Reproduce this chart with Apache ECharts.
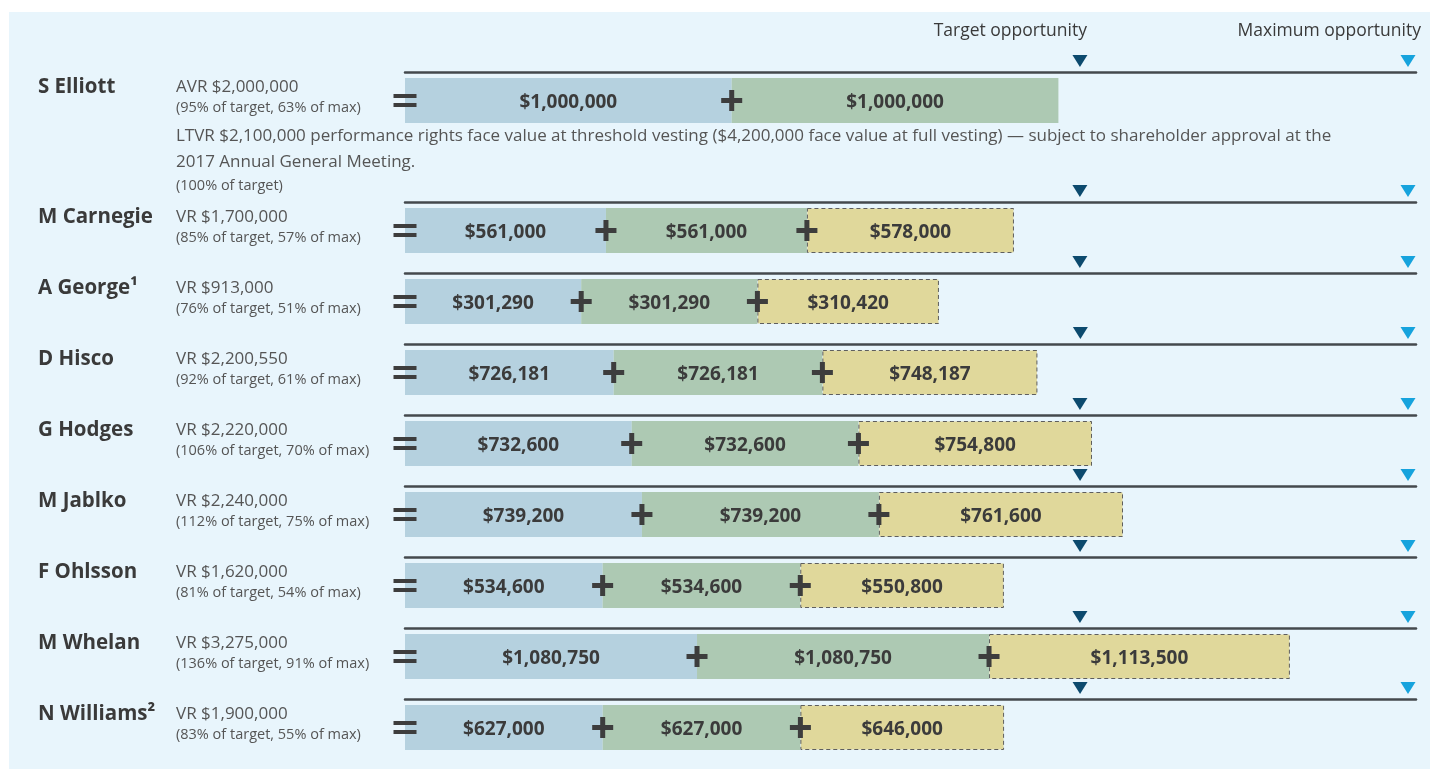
<!DOCTYPE html>
<html>
<head>
<meta charset="utf-8">
<script src="https://cdn.jsdelivr.net/npm/echarts@6/dist/echarts.min.js"></script>
<style>
  html, body { margin: 0; padding: 0; background: #fff; }
  #main { width: 1430px; height: 769px; }
</style>
</head>
<body>
<div id="main"></div>
<script>
// rows, top to bottom
var names = ['S Elliott', 'M Carnegie', 'A George¹', 'D Hisco', 'G Hodges', 'M Jablko', 'F Ohlsson', 'M Whelan', 'N Williams²'];
var awardText = ['AVR $2,000,000', 'VR $1,700,000', 'VR $913,000', 'VR $2,200,550', 'VR $2,220,000', 'VR $2,240,000', 'VR $1,620,000', 'VR $3,275,000', 'VR $1,900,000'];
var pctText = ['(95% of target, 63% of max)', '(85% of target, 57% of max)', '(76% of target, 51% of max)', '(92% of target, 61% of max)',
  '(106% of target, 70% of max)', '(112% of target, 75% of max)', '(81% of target, 54% of max)', '(136% of target, 91% of max)', '(83% of target, 55% of max)'];
var part1 = [1000000, 561000, 301290, 726181, 732600, 739200, 534600, 1080750, 627000];
var part2 = [1000000, 561000, 301290, 726181, 732600, 739200, 534600, 1080750, 627000];
var part3 = [null, 578000, 310420, 748187, 754800, 761600, 550800, 1113500, 646000];
// opportunity markers
var targetOpp = [2066000, 1884000, 1154000, 2350000, 2181000, 2106000, 1826000, 2498000, 2141000];
var maxOpp = [3070000, 2800000, 1715000, 3490000, 3241000, 3129000, 2713000, 3712000, 3181000];
var ltvrNote = ['LTVR $2,100,000 performance rights face value at threshold vesting ($4,200,000 face value at full vesting) — subject to shareholder approval at the',
  '2017 Annual General Meeting.'];
var ltvrPct = '(100% of target)';

var myChart = echarts.init(document.getElementById('main'));

var FONT = '"Open Sans", sans-serif';
var AXIS_PAD = 1.008; // axis line runs a little past the max marker
var EQ = 'path://M0,0h23v4h-23z M0,9h23v4h-23z';
var PLUS = 'path://M8,0h5v8h8v5h-8v8h-5v-8h-8v-5h8z';
var TRI = 'path://M0,0L16,0L8,12Z';

function rowTop(i) { return i === 0 ? 72 : 202 + (i - 1) * 71; }
function money(v) { return '$' + Number(v).toLocaleString('en-US'); }

var grids = [], xAxes = [], yAxes = [], series = [], graphics = [];

graphics.push({ type: 'rect', shape: { x: 9, y: 12, width: 1421, height: 757 }, style: { fill: '#e8f5fc' }, z: -10 });
graphics.push({ type: 'text', x: 1087, y: 31, style: { text: 'Target opportunity', font: '17.5px ' + FONT, fill: '#3a3a3a', align: 'right', verticalAlign: 'middle' } });
graphics.push({ type: 'text', x: 1421, y: 31, style: { text: 'Maximum opportunity', font: '17.5px ' + FONT, fill: '#3a3a3a', align: 'right', verticalAlign: 'middle' } });

var barLabel = {
  show: true,
  position: 'inside',
  offset: [0, 2],
  formatter: function (p) { return money(p.value); },
  fontFamily: FONT,
  fontWeight: 'bold',
  fontSize: 19,
  color: '#3b3b3b'
};

for (var i = 0; i < names.length; i++) {
  var rowY = rowTop(i);
  grids.push({ left: 405, right: 14, top: rowY, height: 57 });
  xAxes.push({
    gridIndex: i, type: 'value', position: 'top', min: 0, max: maxOpp[i] * AXIS_PAD,
    axisLine: { show: true, lineStyle: { color: '#44494d', width: 2.5 } },
    axisTick: { show: false }, axisLabel: { show: false }, splitLine: { show: false }
  });
  yAxes.push({ gridIndex: i, type: 'category', data: ['r'], show: false });

  var stack = 'row' + i;
  series.push({
    type: 'bar', xAxisIndex: i, yAxisIndex: i, stack: stack, barWidth: 45, data: [part1[i]],
    itemStyle: { color: '#b5d1df' }, label: barLabel, silent: true
  });
  series.push({
    type: 'bar', xAxisIndex: i, yAxisIndex: i, stack: stack, barWidth: 45, data: [part2[i]],
    itemStyle: { color: '#adc9b3' }, label: barLabel, silent: true
  });
  if (part3[i] !== null) {
    series.push({
      type: 'bar', xAxisIndex: i, yAxisIndex: i, stack: stack, barWidth: 45, data: [part3[i]],
      itemStyle: { color: '#e0d89b', borderColor: '#5e5e5e', borderWidth: 1, borderType: [4, 3] },
      label: barLabel, silent: true
    });
  }

  var marks = [
    { coord: [0, 'r'], symbol: EQ, symbolSize: [23, 13], itemStyle: { color: '#3d3d3d' } },
    { coord: [part1[i], 'r'], symbol: PLUS, symbolSize: [21, 21], itemStyle: { color: '#3d3d3d' } }
  ];
  if (part3[i] !== null) {
    marks.push({ coord: [part1[i] + part2[i], 'r'], symbol: PLUS, symbolSize: [21, 21], itemStyle: { color: '#3d3d3d' } });
  }
  marks.push({ coord: [targetOpp[i], 'r'], symbol: TRI, symbolSize: [15, 12], symbolOffset: [0, -39.5], itemStyle: { color: '#0c4a6e' } });
  marks.push({ coord: [maxOpp[i], 'r'], symbol: TRI, symbolSize: [15, 12], symbolOffset: [0, -39.5], itemStyle: { color: '#16a3dd' } });

  series.push({
    type: 'scatter', xAxisIndex: i, yAxisIndex: i, data: [], z: 5, silent: true,
    markPoint: { silent: true, label: { show: false }, data: marks, animation: false }
  });

  // left hand text
  graphics.push({ type: 'text', x: 38, y: rowY + 15, style: { text: names[i], font: 'bold 20.5px ' + FONT, fill: '#3a3a3a', verticalAlign: 'middle' } });
  graphics.push({ type: 'text', x: 176, y: rowY + 15, style: { text: awardText[i], font: '17px ' + FONT, fill: '#555', verticalAlign: 'middle' } });
  graphics.push({ type: 'text', x: 176, y: rowY + 36, style: { text: pctText[i], font: '14.5px ' + FONT, fill: '#555', verticalAlign: 'middle' } });
}

graphics.push({ type: 'text', x: 176, y: 136, style: { text: ltvrNote[0], font: '17px ' + FONT, fill: '#555', verticalAlign: 'middle' } });
graphics.push({ type: 'text', x: 176, y: 162, style: { text: ltvrNote[1], font: '17px ' + FONT, fill: '#555', verticalAlign: 'middle' } });
graphics.push({ type: 'text', x: 176, y: 186, style: { text: ltvrPct, font: '14.5px ' + FONT, fill: '#555', verticalAlign: 'middle' } });

var option = {
  backgroundColor: '#fff',
  animation: false,
  grid: grids,
  xAxis: xAxes,
  yAxis: yAxes,
  series: series,
  graphic: graphics
};
myChart.setOption(option);
</script>
</body>
</html>
